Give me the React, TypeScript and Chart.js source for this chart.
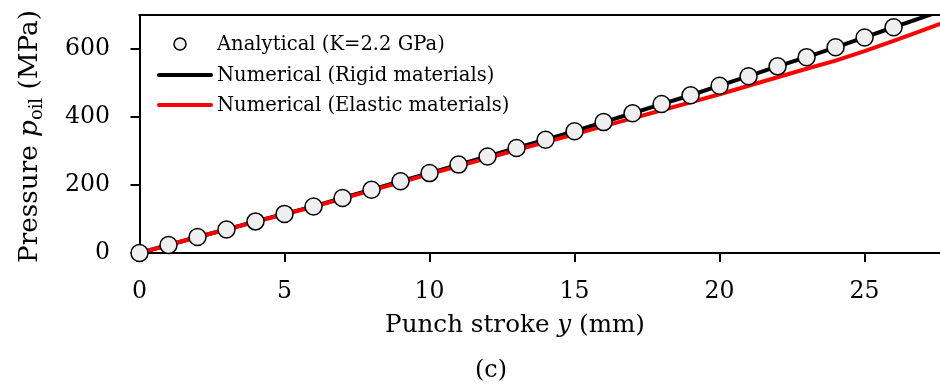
import React, { useEffect, useRef } from "react";
import { Chart, registerables } from "chart.js";

Chart.register(...registerables);

// ---- data ----
const STROKE_ANALYTICAL = [0, 1, 2, 3, 4, 5, 6, 7, 8, 9, 10, 11, 12, 13, 14, 15, 16, 17, 18, 19, 20, 21, 22, 23, 24, 25, 26];
const P_ANALYTICAL = [0, 23.5, 47, 69, 93, 115, 137, 162, 186, 211, 235, 260, 284, 309, 333, 358, 385, 411, 438, 464, 492, 520, 549, 576, 605, 634, 664];

const STROKE_NUMERICAL = [0, 1, 2, 3, 4, 5, 6, 7, 8, 9, 10, 11, 12, 13, 14, 15, 16, 17, 18, 19, 20, 21, 22, 23, 24, 25, 26, 27, 28];
const P_RIGID = [0, 23.5, 47, 69, 93, 115, 137, 162, 186, 211, 235, 260, 284, 309, 333, 358, 385, 411, 438, 464, 492, 520, 549, 576, 605, 634, 664, 693, 723];
const P_ELASTIC = [0, 23.5, 47, 69, 92, 114, 136, 160, 184, 208, 232, 256, 279, 303, 326, 349, 373, 396, 420, 443, 467, 492, 517, 542, 566, 594, 624, 655, 686];

const X_TICKS = [0, 5, 10, 15, 20, 25];
const Y_TICKS = [0, 200, 400, 600];
const X_MAX = 27.6;
const Y_MAX = 700;

const LEGEND_LABELS = ["Analytical (K=2.2 GPa)", "Numerical (Rigid materials)", "Numerical (Elastic materials)"];
const X_TITLE = [{ t: "Punch stroke " }, { t: "y", italic: true }, { t: " (mm)" }];
const Y_TITLE = [{ t: "Pressure " }, { t: "p", italic: true }, { t: "oil", sub: true }, { t: " (MPa)" }];
const CAPTION = "(c)";

const FONT = "'DejaVu Serif', 'Liberation Serif', serif";

type Seg = { t: string; italic?: boolean; sub?: boolean };

function segFont(s: Seg, size: number) {
  const sz = s.sub ? size * 0.68 : size;
  return `${s.italic ? "italic " : ""}${sz}px ${FONT}`;
}

function measureRich(ctx: CanvasRenderingContext2D, segs: Seg[], size: number) {
  let w = 0;
  for (const s of segs) {
    ctx.font = segFont(s, size);
    w += ctx.measureText(s.t).width;
  }
  return w;
}

function drawRich(ctx: CanvasRenderingContext2D, segs: Seg[], cx: number, baseY: number, size: number) {
  const w = measureRich(ctx, segs, size);
  let x = cx - w / 2;
  ctx.textAlign = "left";
  ctx.textBaseline = "alphabetic";
  for (const s of segs) {
    ctx.font = segFont(s, size);
    ctx.fillText(s.t, x, s.sub ? baseY + size * 0.2 : baseY);
    x += ctx.measureText(s.t).width;
  }
}

function fitSize(ctx: CanvasRenderingContext2D, segs: Seg[], target: number) {
  const w = measureRich(ctx, segs, 40);
  return (40 * target) / w;
}

const decorPlugin = {
  id: "decor",
  afterDraw(chart: any) {
    const ctx: CanvasRenderingContext2D = chart.ctx;
    const a = chart.chartArea;
    ctx.save();
    // top frame line
    ctx.strokeStyle = "#000";
    ctx.lineWidth = 2;
    ctx.beginPath();
    ctx.moveTo(a.left - 1, a.top);
    ctx.lineTo(a.right, a.top);
    ctx.stroke();

    ctx.fillStyle = "#000";
    // x title
    const xs = fitSize(ctx, X_TITLE, 260);
    drawRich(ctx, X_TITLE, 515, 332, xs);
    // y title
    const ys = fitSize(ctx, Y_TITLE, 253);
    ctx.save();
    ctx.translate(37, 136.5);
    ctx.rotate(-Math.PI / 2);
    drawRich(ctx, Y_TITLE, 0, 0, ys);
    ctx.restore();
    // caption
    const cs = fitSize(ctx, [{ t: CAPTION }], 32);
    drawRich(ctx, [{ t: CAPTION }], 491, 377, cs);

    // legend
    const ls = fitSize(ctx, [{ t: LEGEND_LABELS[0] }], 228);
    const rows = [44, 75, 105];
    ctx.font = `${ls}px ${FONT}`;
    ctx.textAlign = "left";
    ctx.textBaseline = "middle";
    LEGEND_LABELS.forEach((lab, i) => {
      ctx.fillStyle = "#000";
      ctx.fillText(lab, 217, rows[i] + 1);
    });
    // marker
    ctx.beginPath();
    ctx.arc(180, rows[0], 6, 0, Math.PI * 2);
    ctx.fillStyle = "#efefef";
    ctx.fill();
    ctx.lineWidth = 1.5;
    ctx.strokeStyle = "#000";
    ctx.stroke();
    // lines
    ctx.lineWidth = 4;
    ctx.lineCap = "round";
    ctx.strokeStyle = "#000";
    ctx.beginPath();
    ctx.moveTo(159, rows[1]);
    ctx.lineTo(211, rows[1]);
    ctx.stroke();
    ctx.strokeStyle = "#ff0000";
    ctx.beginPath();
    ctx.moveTo(159, rows[2]);
    ctx.lineTo(211, rows[2]);
    ctx.stroke();
    ctx.restore();
  },
};

function zeroPad(s: any) {
  s.paddingTop = 0;
  s.paddingBottom = 0;
  s.paddingLeft = 0;
  s.paddingRight = 0;
}

export default function App() {
  const ref = useRef<HTMLCanvasElement | null>(null);

  useEffect(() => {
    if (!ref.current) return;
    const chart = new Chart(ref.current, {
      type: "scatter",
      data: {
        datasets: [
          {
            label: LEGEND_LABELS[0],
            data: STROKE_ANALYTICAL.map((x, i) => ({ x, y: P_ANALYTICAL[i] })),
            showLine: false,
            pointRadius: 8.5,
            pointBorderWidth: 1.5,
            pointBackgroundColor: "#efefef",
            pointBorderColor: "#000",
            order: 0,
            clip: false as any,
          },
          {
            label: LEGEND_LABELS[2],
            data: STROKE_NUMERICAL.map((x, i) => ({ x, y: P_ELASTIC[i] })),
            showLine: true,
            borderColor: "#ff0000",
            borderWidth: 4,
            pointRadius: 0,
            tension: 0,
            order: 1,
            clip: 0 as any,
          },
          {
            label: LEGEND_LABELS[1],
            data: STROKE_NUMERICAL.map((x, i) => ({ x, y: P_RIGID[i] })),
            showLine: true,
            borderColor: "#000",
            borderWidth: 4,
            pointRadius: 0,
            tension: 0,
            order: 2,
            clip: 0 as any,
          },
        ],
      },
      options: {
        animation: false,
        responsive: false,
        devicePixelRatio: 1,
        layout: { autoPadding: false, padding: { top: 15, right: 0, left: 0, bottom: 0 } },
        plugins: { legend: { display: false }, tooltip: { enabled: false } },
        scales: {
          x: {
            type: "linear",
            min: 0,
            max: X_MAX,
            afterBuildTicks: (s: any) => {
              s.ticks = X_TICKS.map((v) => ({ value: v }));
            },
            afterFit: (s: any) => {
              s.height = 131;
              zeroPad(s);
            },
            border: { display: true, color: "#000", width: 2 },
            grid: { drawOnChartArea: false, drawTicks: true, tickLength: 9, tickWidth: 2, tickColor: "#000", lineWidth: 2, color: "#000" },
            ticks: { color: "#000", font: { family: FONT, size: 23.6 }, padding: 16, maxRotation: 0 },
          },
          y: {
            type: "linear",
            min: 0,
            max: Y_MAX,
            afterBuildTicks: (s: any) => {
              s.ticks = Y_TICKS.map((v) => ({ value: v }));
            },
            afterFit: (s: any) => {
              s.width = 139.5;
              zeroPad(s);
            },
            border: { display: true, color: "#000", width: 2 },
            grid: { drawOnChartArea: false, drawTicks: true, tickLength: 9, tickWidth: 2, tickColor: "#000", lineWidth: 2, color: "#000" },
            ticks: { color: "#000", font: { family: FONT, size: 23.6 }, padding: 20.5 },
          },
        },
      },
      plugins: [decorPlugin],
    } as any);
    return () => chart.destroy();
  }, []);

  return (
    <div style={{ position: "fixed", left: 0, top: 0, width: 940, height: 384, background: "#fff" }}>
      <canvas ref={ref} width={940} height={384} style={{ width: 940, height: 384, display: "block" }} />
    </div>
  );
}
